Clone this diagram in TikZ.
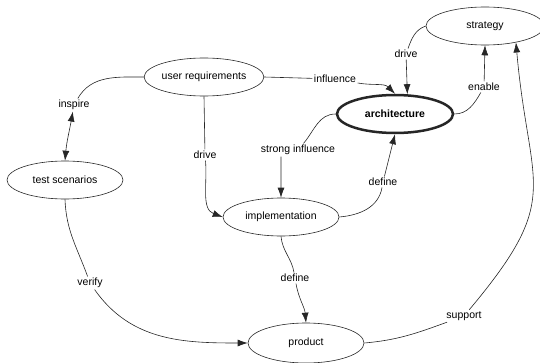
\documentclass[tikz,border=0pt]{standalone}
\usepackage{fontspec}
\setmainfont{Liberation Sans}
\usetikzlibrary{shapes.geometric,arrows.meta}

\begin{document}
\begin{tikzpicture}[x=1pt,y=1pt,>={Latex[length=10pt,width=7pt]}]
        \tikzset{concept/.style={ellipse, draw=black!85, line width=0.6pt, inner sep=0pt,
                    minimum width=116pt, minimum height=38pt, font=\fontsize{10.5}{12}\selectfont},
                 rel/.style={inner sep=1.5pt, font=\fontsize{10.5}{12}\selectfont},
                 link/.style={->, draw=black!85, line width=0.6pt}}
        \useasboundingbox (0,0) rectangle (540,362);
        % concepts
        \node[concept, minimum width=118pt] (strat) at (485,336) {strategy};
        \node[concept, minimum width=114pt] (ureq) at (204,285) {user requirements};
        \node[concept, line width=2.5pt, font=\fontsize{10.5}{12}\selectfont\bfseries] (arch) at (395,248) {architecture};
        \node[concept] (tests) at (65,182) {test scenarios};
        \node[concept] (impl) at (281,145) {implementation};
        \node[concept, minimum height=40pt] (prod) at (306,19) {product};
        % relation labels
        \node[rel] (lInfl) at (335,283) {influence};
        \node[rel] (lDrive1) at (406,308) {drive};
        \node[rel] (lEnable) at (484,275) {enable};
        \node[rel] (lStrong) at (298,212) {strong influence};
        \node[rel] (lDefine1) at (383,180) {define};
        \node[rel] (lDrive2) at (205,207) {drive};
        \node[rel] (lInspire) at (74,257) {inspire};
        \node[rel] (lVerify) at (90,79) {verify};
        \node[rel] (lDefine2) at (295,84) {define};
        \node[rel] (lSupport) at (464,46) {support};
        % relations
        \draw[link] (ureq.east) -- (lInfl) to[out=-10,in=135] (arch.north);
        \draw[link] (strat.west) to[out=200,in=70] (lDrive1) -- (arch.58);
        \draw[link] (arch.east) to[out=0,in=-120] (lEnable) -- (strat.south);
        \draw[link] (arch.west) to[out=180,in=50] (lStrong) (lStrong.south -| impl.north) -- (impl.north);
        \draw[link] (impl.east) to[out=5,in=-100] (lDefine1) -- (arch.south);
        \draw[link] (ureq.south) -- (lDrive2) to[out=-85,in=160] (impl.west);
        \draw[link, <->] (ureq.west) to[out=180,in=60] (lInspire) to[out=-100,in=85] (tests.north);
        \draw[link] (tests.south) to[out=-88,in=110] (lVerify) to[out=-55,in=180] (prod.west);
        \draw[link] (impl.south) to[out=-85,in=100] (lDefine2) to[out=-80,in=95] (prod.north);
        \draw[link] (prod.east) to[out=5,in=-160] (lSupport) to[out=50,in=-85,looseness=1.4] (strat.-28);
    \end{tikzpicture}
\end{document}
